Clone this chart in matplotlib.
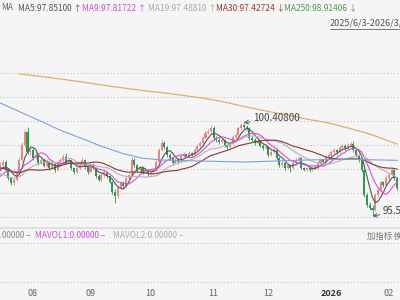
import numpy as np
import pandas as pd
import matplotlib.pyplot as plt
from matplotlib.lines import Line2D

plt.rcParams['font.family'] = ['Noto Sans CJK SC', 'DejaVu Sans']

# closes before the visible window (needed so the moving averages start at the left edge)
pre_closes = [99.2, 98.8, 98.7, 99.2, 99.0, 99.1, 98.6, 98.0, 97.9, 98.1,
              98.2, 98.8, 98.9, 98.7, 98.4, 97.9, 97.7, 97.4, 97.2, 96.8,
              96.7, 97.2, 96.9, 97.3, 97.5, 97.6, 97.8, 97.9, 98.1]

closes = [98.21, 98.36, 97.95, 97.53, 97.27, 97.43, 97.84, 98.47, 99.25, 99.93,
          98.89, 98.99, 98.57, 98.73, 98.31, 98.47, 98.16, 98.36, 98.05, 98.26,
          97.95, 98.31, 98.47, 98.63, 98.36, 98.47, 98.05, 97.84, 98.05, 98.21,
          98.47, 98.10, 97.84, 98.21, 98.05, 97.64, 97.43, 97.69, 97.84, 97.64,
          97.32, 96.80, 96.59, 97.01, 97.27, 97.11, 97.53, 97.69, 98.47, 98.21,
          97.95, 98.05, 97.84, 97.95, 97.74, 97.84, 97.95, 98.36, 98.99, 99.35,
          99.15, 98.73, 98.57, 98.31, 98.47, 98.36, 98.68, 98.78, 98.68, 98.83,
          98.73, 98.99, 99.20, 99.35, 99.61, 99.88, 99.98, 100.14, 99.61, 99.51,
          99.41, 99.51, 99.25, 99.15, 99.35, 99.67, 99.77, 100.14, 100.29, 100.19,
          100.14, 99.61, 99.51, 99.35, 99.46, 99.20, 99.09, 99.15, 98.73, 98.89,
          98.99, 98.57, 98.21, 98.31, 98.05, 98.21, 98.05, 98.31, 98.47, 98.57,
          98.05, 97.95, 98.05, 97.95, 98.10, 98.05, 98.31, 98.47, 98.36, 98.63,
          98.73, 98.89, 98.99, 98.89, 99.09, 99.20, 99.09, 99.25, 99.30, 98.99,
          98.73, 98.47, 97.95, 96.65, 96.13, 95.97, 95.86, 96.65, 96.91, 97.32,
          97.16, 97.53, 97.69, 97.95, 97.53, 97.01]

highs = [98.38, 98.47, 98.45, 98.02, 97.60, 97.52, 97.92, 98.60, 99.40, 100.05,
         100.18, 99.25, 99.10, 98.90, 98.80, 98.60, 98.55, 98.48, 98.42, 98.35,
         98.33, 98.40, 98.58, 98.80, 98.85, 98.55, 98.52, 98.12, 98.15, 98.30,
         98.62, 98.52, 98.18, 98.30, 98.30, 98.10, 97.72, 97.78, 97.95, 97.90,
         97.70, 97.38, 96.95, 97.10, 97.38, 97.35, 97.62, 97.80, 98.62, 98.55,
         98.28, 98.15, 98.10, 98.04, 98.00, 97.92, 98.05, 98.45, 99.10, 99.52,
         99.45, 99.22, 98.82, 98.62, 98.56, 98.55, 98.76, 98.88, 98.85, 98.92,
         98.90, 99.08, 99.30, 99.45, 99.72, 99.98, 100.10, 100.28, 100.25, 99.70,
         99.60, 99.62, 99.58, 99.32, 99.45, 99.76, 99.88, 100.25, 100.38, 100.408,
         100.30, 100.20, 99.70, 99.60, 99.55, 99.52, 99.28, 99.26, 99.20, 98.98,
         99.10, 99.05, 98.62, 98.40, 98.38, 98.30, 98.26, 98.40, 98.56, 98.68,
         98.62, 98.12, 98.14, 98.10, 98.18, 98.16, 98.40, 98.55, 98.52, 98.72,
         98.84, 98.98, 99.10, 99.06, 99.18, 99.30, 99.28, 99.35, 99.42, 99.45,
         99.05, 98.80, 98.52, 98.02, 96.75, 96.30, 96.10, 96.75, 97.05, 97.45,
         97.40, 97.62, 97.80, 98.10, 98.00, 97.60]

lows = [97.98, 98.10, 97.88, 97.45, 97.15, 97.18, 97.38, 97.78, 98.40, 99.15,
        98.80, 98.72, 98.45, 98.50, 98.20, 98.25, 98.08, 98.10, 97.95, 97.98,
        97.85, 97.90, 98.25, 98.40, 98.28, 98.30, 97.96, 97.75, 97.78, 98.00,
        98.15, 98.02, 97.75, 97.78, 97.98, 97.55, 97.35, 97.38, 97.60, 97.55,
        97.25, 96.70, 96.23, 96.50, 96.95, 97.02, 97.05, 97.45, 97.62, 98.12,
        97.86, 97.88, 97.76, 97.78, 97.66, 97.68, 97.78, 97.90, 98.30, 98.92,
        99.05, 98.62, 98.48, 98.22, 98.25, 98.28, 98.30, 98.60, 98.60, 98.62,
        98.65, 98.68, 98.92, 99.12, 99.28, 99.55, 99.80, 99.90, 99.52, 99.42,
        99.32, 99.35, 99.16, 99.05, 99.08, 99.30, 99.58, 99.70, 100.05, 100.10,
        100.02, 99.52, 99.42, 99.26, 99.28, 99.12, 99.00, 99.02, 98.64, 98.66,
        98.82, 98.48, 98.12, 98.15, 97.96, 97.98, 97.82, 98.00, 98.25, 98.40,
        97.98, 97.88, 97.90, 97.86, 97.90, 97.98, 98.00, 98.25, 98.28, 98.30,
        98.58, 98.66, 98.82, 98.80, 98.84, 99.02, 99.00, 99.02, 99.18, 98.90,
        98.62, 98.38, 97.85, 96.55, 96.00, 95.85, 95.55, 95.80, 96.55, 96.85,
        97.05, 97.10, 97.45, 97.62, 97.45, 96.92]

# long averages at a handful of candles
ma250_idx = [7, 15, 22, 30, 37, 45, 52, 60, 67, 75, 82, 90, 97, 105, 112, 120, 127, 135, 145]
ma250_val = [102.95, 102.82, 102.69, 102.53, 102.38, 102.22, 102.09, 101.96, 101.83, 101.67,
             101.49, 101.23, 101.02, 100.81, 100.60, 100.40, 100.14, 99.82, 99.30]
ma120_idx = [0, 7, 15, 22, 30, 37, 45, 52, 60, 75, 90, 97, 112, 127, 145]
ma120_val = [101.44, 100.99, 100.48, 100.02, 99.58, 99.18, 98.80, 98.56, 98.46, 98.41,
             98.36, 98.40, 98.47, 98.51, 98.45]

month_idx = [12, 33, 55, 78, 98, 121, 142]
month_lbl = ['08', '09', '10', '11', '12', '2026', '02']

BG = '#f5f5f5'
UP = '#ea8585'
DOWN = '#2a9a50'
GRID = '#c4c4c4'
H = 300.0
XLIM = (-0.05, 146.04)


def fy(row):
    # pixel row -> figure fraction
    return 1 - row / H


# price scale: 95.5 sits on pixel row 217, 19.2 px per point
def price_at(row):
    return 95.5 + (217 - row) / 19.2


fig = plt.figure(figsize=(4, 3), dpi=100, facecolor=BG)

ax = fig.add_axes([0, fy(227), 1, (227 - 38) / H], facecolor=BG)
ax.set_xlim(*XLIM)
ax.set_ylim(price_at(227), price_at(38))
for s in ax.spines.values():
    s.set_visible(False)
ax.set_xticks([])
ax.set_yticks([])

for k in range(7):
    ax.axhline(95.5 + 1.25 * k, color=GRID, lw=0.8, ls=(0, (1, 2)), zorder=0)

c = np.array(closes)
o = np.array([pre_closes[-1]] + closes[:-1])
hi = np.array(highs)
lo = np.array(lows)
x = np.arange(len(c))
col = np.where(c >= o, UP, DOWN)

ax.vlines(x, lo, hi, colors=col, lw=0.6, zorder=2)
body = np.maximum(np.abs(c - o), 0.03)
ax.bar(x, body, bottom=np.minimum(o, c), width=0.75, color=col, lw=0, zorder=3)

allc = pd.Series(pre_closes + closes)
npre = len(pre_closes)
ma_style = [(5, '#555555'), (9, '#d84fd8'), (19, '#b4b4b4'), (30, '#8e3535')]
for n, clr in ma_style:
    ma = allc.rolling(n).mean().values[npre:]
    ax.plot(x, ma, color=clr, lw=0.8, zorder=4)

ax.plot(ma120_idx, ma120_val, color='#7f9fe0', lw=0.8, zorder=4)
ax.plot(ma250_idx, ma250_val, color='#d8b46a', lw=0.9, zorder=4)

imax = int(np.argmax(hi))
imin = int(np.argmin(lo))
ax.annotate(f'{hi[imax]:.5f}', xy=(imax, hi[imax]), xytext=(6.5, 3.5),
            textcoords='offset points', fontsize=7, color='#444444', va='center',
            arrowprops=dict(arrowstyle='->', color='#555555', lw=0.6,
                            shrinkA=0, shrinkB=0), zorder=6)
ax.annotate(f'{lo[imin]:.5f}', xy=(imin, lo[imin]), xytext=(7.5, 3.5),
            textcoords='offset points', fontsize=7, color='#444444', va='center',
            arrowprops=dict(arrowstyle='->', color='#555555', lw=0.6,
                            shrinkA=0, shrinkB=0), zorder=6)

# volume panel (empty)
vax = fig.add_axes([0, fy(286), 1, (286 - 228) / H], facecolor=BG)
vax.set_xlim(*XLIM)
vax.set_ylim(58, 0)
for s in vax.spines.values():
    s.set_visible(False)
vax.set_yticks([])
vax.axhline(15, color=GRID, lw=0.8, ls=(0, (1, 2)))
vax.axhline(54, color=GRID, lw=0.8, ls=(0, (1, 2)))
vax.set_xticks(month_idx, month_lbl)
vax.tick_params(axis='x', length=0, pad=2.5, labelsize=6.5, labelcolor='#666666')
vax.get_xticklabels()[5].set_fontweight('bold')
vax.get_xticklabels()[5].set_color('#333333')

fig.add_artist(Line2D([0, 1], [fy(227.5)] * 2, color='#e0e0e0', lw=1.5))

# header legend
legend = [('MA', '#666666', 1), ('MA5:97.85100 ↑', '#555555', 18),
          ('MA9:97.81722 ↑', '#d04fd0', 82), ('MA19:97.48810 ↑', '#aaaaaa', 148),
          ('MA30:97.42724 ↓', '#a03535', 216), ('MA250:98.91406 ↓', '#4d9a52', 284)]
for txt, clr, px in legend:
    fig.text(px / 400, fy(8), txt, color=clr, fontsize=6, va='center')

fig.text(330 / 400, fy(23), '2025/6/3-2026/3/2', color='#555555', fontsize=6.5, va='center')
fig.add_artist(Line2D([330 / 400, 1], [fy(28.5)] * 2, color='#666666', lw=0.6))

fig.text(31 / 400, fy(236), 'VOL:0.00000 –', color='#888888', fontsize=6,
         va='center', ha='right')
fig.text(35 / 400, fy(236), 'MAVOL1:0.00000 –', color='#d04fd0', fontsize=6, va='center')
fig.text(113 / 400, fy(236), 'MAVOL2:0.00000 –', color='#aaaaaa', fontsize=6, va='center')
fig.text(367 / 400, fy(236), '加指标 换指标', color='#777777', fontsize=6, va='center')

fig.savefig('out.png', dpi=100, facecolor=BG)
